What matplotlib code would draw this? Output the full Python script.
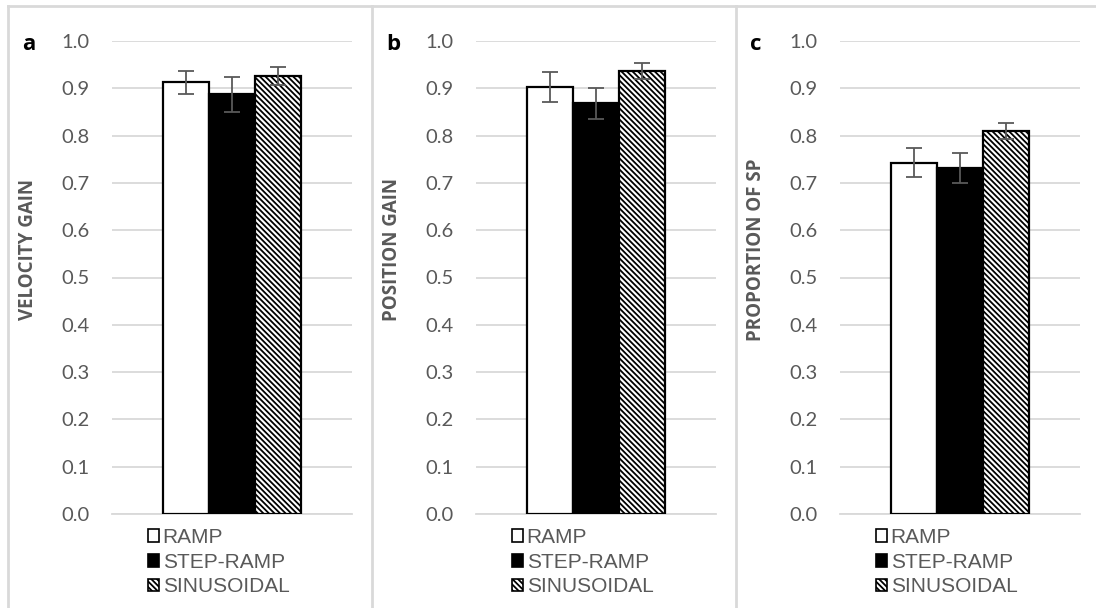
import matplotlib
matplotlib.use("Agg")
import matplotlib.pyplot as plt
from matplotlib.lines import Line2D
from matplotlib.patches import Patch

conditions = ["RAMP", "STEP-RAMP", "SINUSOIDAL"]
panel_letters = ["a", "b", "c"]
ylabels = ["VELOCITY GAIN", "POSITION GAIN", "PROPORTION OF SP"]
velocity_gain = [0.913, 0.887, 0.925]
velocity_err = [0.024, 0.037, 0.019]
position_gain = [0.902, 0.868, 0.937]
position_err = [0.032, 0.032, 0.017]
proportion_sp = [0.743, 0.731, 0.810]
proportion_err = [0.031, 0.032, 0.017]
yticks = [0.0, 0.1, 0.2, 0.3, 0.4, 0.5, 0.6, 0.7, 0.8, 0.9, 1.0]

values = [velocity_gain, position_gain, proportion_sp]
errors = [velocity_err, position_err, proportion_err]

W, H = 1096, 608
plt.rcParams['hatch.linewidth'] = 1.3
fig = plt.figure(figsize=(W / 100, H / 100), dpi=100)

GRAY = "#595959"
GRID = "#d9d9d9"
face = ["white", "black", "white"]
hatches = [None, None, "\\\\\\\\\\\\"]

def fx(px):
    return px / W

def fy(py):
    return 1 - py / H

# panel borders
for x in [8, 372, 736]:
    fig.add_artist(Line2D([fx(x), fx(x)], [fy(6), 0], color=GRID, lw=2))
fig.add_artist(Line2D([fx(8), 1], [fy(6), fy(6)], color=GRID, lw=2))

for i in range(3):
    off = 364 * i
    ax = fig.add_axes([fx(112 + off), fy(514), 240 / W, 473 / H])
    xs = [-1, 0, 1]
    bars = ax.bar(xs, values[i], width=1.0, color=face, edgecolor="black",
                  linewidth=1.6, zorder=3)
    for b, h in zip(bars, hatches):
        if h:
            b.set_hatch(h)
    ax.errorbar(xs, values[i], yerr=errors[i], fmt="none", ecolor=GRAY,
                elinewidth=1.3, capsize=5.5, capthick=1.3, zorder=4)
    ax.set_xlim(-2.609, 2.609)
    ax.set_ylim(0, 1.0)
    ax.set_yticks(yticks)
    ax.set_yticklabels([f"{t:.1f}" for t in yticks], fontfamily="Lato",
                       fontsize=14.5, color=GRAY)
    ax.tick_params(axis="y", length=0, pad=16)
    ax.set_xticks([])
    ax.grid(axis="y", color=GRID, lw=1.3, zorder=0)
    for s in ["top", "right", "left"]:
        ax.spines[s].set_visible(False)
    ax.spines["bottom"].set_color(GRID)
    ax.spines["bottom"].set_linewidth(1.3)
    ax.set_axisbelow(True)

    fig.text(fx(22 + off), fy(45), panel_letters[i], fontsize=16,
             fontweight="bold", fontfamily="Open Sans", ha="left", va="center",
             color="black")
    fig.text(fx(28 + off), fy(250), ylabels[i], rotation=90, fontsize=13.5,
             fontweight="bold", fontfamily="Open Sans", ha="center",
             va="center", color=GRAY)

    handles = [Patch(facecolor=face[k], edgecolor="black", hatch=hatches[k],
                     linewidth=1.2) for k in range(3)]
    fig.legend(handles, conditions, loc="upper left",
               bbox_to_anchor=(fx(148 + off), fy(528)), frameon=False,
               handlelength=0.55, handleheight=0.55, handletextpad=0.15,
               labelspacing=0.27, borderpad=0, borderaxespad=0,
               prop={"family": "Liberation Sans", "size": 15},
               labelcolor=GRAY)

fig.savefig("out.png", dpi=100)
